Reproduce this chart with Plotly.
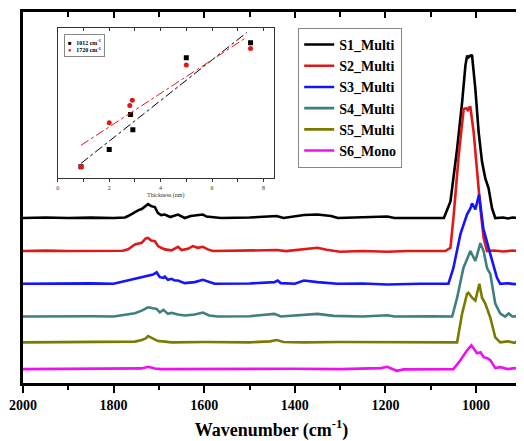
import plotly.graph_objects as go

# ---------------- data ----------------
SERIES_NAMES = ["S1_Multi", "S2_Multi", "S3_Multi", "S4_Multi", "S5_Multi", "S6_Mono"]
SERIES_COLORS = ["#000000", "#e01818", "#1414ff", "#3f7f7f", "#7a7a00", "#ee10ee"]
SERIES_OFFSETS = [1.663, 1.33, 1.00, 0.67, 0.41, 0.14]

# (wavenumber cm-1, intensity a.u.)
S1 = [(2000, 0), (1950, 0.005), (1900, 0), (1850, 0.004), (1800, 0), (1775, 0.005), (1768, 0.02),
      (1753, 0.06), (1745, 0.08), (1738, 0.09), (1730, 0.12), (1724, 0.14), (1717, 0.12), (1709, 0.11),
      (1702, 0.05), (1695, 0.03), (1687, 0.035), (1675, 0.01), (1658, 0.035), (1650, 0.015), (1643, 0),
      (1630, 0.02), (1621, 0.025), (1603, 0.035), (1595, 0.015), (1580, 0.01), (1563, 0), (1500, 0.005),
      (1440, 0.02), (1425, 0), (1380, 0.03), (1350, 0.035), (1320, 0.02), (1305, 0), (1250, 0.005),
      (1196, 0.015), (1180, 0), (1101, 0.005), (1080, 0), (1071, 0), (1056.5, 0.167), (1041.8, 0.70),
      (1030.8, 1.167), (1023.5, 1.537), (1019.8, 1.637), (1016.5, 1.62), (1012, 1.64), (1008.8, 1.637),
      (1001.5, 1.30), (994.3, 0.867), (986.8, 0.567), (979.6, 0.40), (972.3, 0.30), (964.8, 0.10),
      (957.6, 0), (940, 0.005), (930, -0.005), (920, 0.005), (900, 0)]
S2 = [(2000, 0), (1950, 0.004), (1900, 0), (1850, 0.003), (1800, 0), (1780, 0.003), (1768, 0.017),
      (1753, 0.067), (1738, 0.083), (1729, 0.127), (1724, 0.133), (1717, 0.107), (1709, 0.10), (1702, 0.05),
      (1695, 0.033), (1687, 0.017), (1672, 0.007), (1658, 0.043), (1650, 0.01), (1636, 0.023), (1625, 0.05),
      (1614, 0.033), (1603, 0.043), (1592, 0.017), (1581, 0), (1500, 0.003), (1440, 0.01), (1420, 0),
      (1380, 0.023), (1350, 0.033), (1330, 0.013), (1300, -0.007), (1250, 0), (1196, -0.007), (1150, 0),
      (1100, 0), (1067.5, 0), (1056.5, 0.033), (1049.2, 0.37), (1038.2, 0.97), (1027.3, 1.433),
      (1021.3, 1.44), (1018, 1.42), (1014.5, 1.45), (1012.5, 1.45), (1005.3, 1.20), (997.8, 0.80),
      (990.5, 0.433), (983.3, 0.133), (975.8, 0), (960, 0.005), (940, -0.005), (920, 0.005), (900, 0)]
S3 = [(2000, 0), (1950, 0.003), (1900, 0), (1850, 0.004), (1800, 0), (1783, 0.017), (1768, 0.033),
      (1753, 0.05), (1738, 0.067), (1724, 0.083), (1713, 0.093), (1705, 0.117), (1698, 0.067), (1690, 0.06),
      (1687, 0.073), (1680, 0.04), (1672, 0.05), (1665, 0.033), (1658, 0.033), (1643, 0.007), (1621, 0.017),
      (1603, 0.04), (1592, 0.023), (1577, 0), (1500, 0.003), (1445, 0.017), (1438, 0.033), (1431, 0.007),
      (1400, 0), (1380, 0.033), (1350, 0.017), (1306, 0), (1250, 0.003), (1196, -0.007), (1123, 0),
      (1061, 0), (1050, 0.16), (1034.5, 0.50), (1019.8, 0.70), (1012.5, 0.76), (1008.8, 0.81),
      (1001.5, 0.75), (993.4, 0.90), (984, 0.56), (968.6, 0.30), (953.8, 0.06), (946.6, 0), (930, 0.005),
      (915, -0.003), (900, 0)]
S4 = [(2000, 0), (1950, 0.003), (1900, 0), (1850, 0.003), (1800, 0), (1783, 0.01), (1753, 0.033),
      (1738, 0.06), (1724, 0.093), (1713, 0.083), (1705, 0.077), (1698, 0.043), (1690, 0.067), (1680, 0.027),
      (1672, 0.037), (1658, 0.02), (1643, 0.01), (1621, 0.02), (1603, 0.04), (1589, 0.01), (1570, 0),
      (1500, 0.003), (1445, 0.027), (1431, 0), (1380, 0.013), (1350, 0.027), (1314, 0.007), (1250, 0),
      (1196, 0.013), (1180, 0), (1100, 0.003), (1052.7, 0), (1041.8, 0.19), (1027.9, 0.49), (1012.5, 0.66),
      (1001.5, 0.56), (990.5, 0.74), (983.3, 0.66), (975.8, 0.49), (968.6, 0.43), (957.6, 0.13),
      (946.6, 0.03), (935.6, 0.0), (928, 0.03), (920, 0), (900, 0.005)]
S5 = [(2000, 0), (1900, 0.003), (1800, 0), (1753, 0.007), (1738, 0.023), (1729, 0.04), (1724, 0.063),
      (1717, 0.047), (1709, 0.03), (1702, 0.013), (1687, 0.007), (1672, 0), (1600, 0.003), (1500, 0),
      (1455, 0.01), (1440, 0.023), (1425, 0.003), (1380, 0), (1300, 0.003), (1200, 0), (1100, 0.003),
      (1041.8, 0), (1030.8, 0.29), (1019.8, 0.49), (1016.9, 0.50), (1008.8, 0.45), (1001.5, 0.42),
      (992.7, 0.59), (986.8, 0.45), (979.6, 0.39), (968.6, 0.25), (957.6, 0.05), (946.6, 0), (930, 0.01),
      (915, -0.005), (907, 0.02), (900, 0.005)]
S6 = [(2000, 0), (1900, 0.003), (1800, 0), (1738, 0.007), (1724, 0.023), (1709, 0.007), (1695, 0),
      (1600, 0.003), (1500, 0), (1400, 0.003), (1300, 0), (1210, 0.01), (1196, 0.023), (1175, -0.017),
      (1160, -0.003), (1100, 0), (1050, 0), (1034.5, 0.09), (1019.8, 0.19), (1010.3, 0.24), (1003, 0.2),
      (997.8, 0.16), (990, 0.17), (983.3, 0.12), (975, 0.11), (968.6, 0.09), (957.6, 0.01), (946.6, 0.02),
      (930, 0.0), (915, 0.01), (900, 0.005)]
SPECTRA = [S1, S2, S3, S4, S5, S6]

X_TICKS = [2000, 1800, 1600, 1400, 1200, 1000]

# inset
THICKNESS_1012 = [0.9, 2.0, 2.83, 2.92, 5.0, 7.5]
AREA_1012 = [0.117, 0.29, 0.644, 0.49, 1.217, 1.367]
THICKNESS_1720 = [0.9, 2.0, 2.8, 2.9, 5.0, 7.5]
AREA_1720 = [0.117, 0.56, 0.734, 0.787, 1.144, 1.31]
FIT_X = [0.9, 7.35]
INSET_TICKS = [0, 2, 4, 6, 8]
INSET_LEGEND = [("■", "#000000", "1012 cm<sup>-1</sup>"), ("●", "#e01818", "1720 cm<sup>-1</sup>")]

SERIF = "Liberation Serif"

fig = go.Figure()

for name, color, off, data in zip(SERIES_NAMES, SERIES_COLORS, SERIES_OFFSETS, SPECTRA):
    fig.add_trace(go.Scatter(
        x=[p[0] for p in data], y=[p[1] + off for p in data], mode="lines", name=name,
        line=dict(color=color, width=2.6), xaxis="x", yaxis="y"))

# dummy traces for top mirror axes with inward ticks
fig.add_trace(go.Scatter(x=[1500], y=[None], xaxis="x3", yaxis="y", showlegend=False,
                         hoverinfo="skip", mode="lines"))
fig.add_trace(go.Scatter(x=[4], y=[None], xaxis="x4", yaxis="y2", showlegend=False,
                         hoverinfo="skip", mode="lines"))


def linfit(xs, ys):
    n = len(xs)
    mx = sum(xs) / n
    my = sum(ys) / n
    sxy = sum((a - mx) * (b - my) for a, b in zip(xs, ys))
    sxx = sum((a - mx) ** 2 for a in xs)
    k = sxy / sxx
    return k, my - k * mx


for xs, ys, color, sym in [
    (THICKNESS_1012, AREA_1012, "#000000", "square"),
    (THICKNESS_1720, AREA_1720, "#e01818", "circle"),
]:
    k, b = linfit(xs, ys)
    fig.add_trace(go.Scatter(x=FIT_X, y=[k * v + b for v in FIT_X], mode="lines",
                             line=dict(color=color, width=1, dash="dashdot"),
                             xaxis="x2", yaxis="y2", showlegend=False, hoverinfo="skip"))
    fig.add_trace(go.Scatter(x=xs, y=ys, mode="markers", showlegend=False,
                             marker=dict(color=color, symbol=sym, size=5),
                             xaxis="x2", yaxis="y2"))

legend_text = "<br>".join(
    f"<span style='color:{c}'>{s}</span>   {t}" for s, c, t in INSET_LEGEND)
fig.add_annotation(
    xref="x2 domain", yref="y2 domain", x=0.03, y=0.96, xanchor="left", yanchor="top",
    text=legend_text, showarrow=False, align="left",
    font=dict(family=SERIF, size=6, weight="bold", color="black"),
    bordercolor="#888", borderwidth=1, borderpad=3, bgcolor="white")

INSET_TICK_STYLE = dict(tickcolor="#333", tickwidth=1)

# the page body adds an 8px margin: figure sized/placed to compensate
fig.update_layout(
    width=516, height=433, autosize=False,
    margin=dict(l=13, r=4, t=1, b=58),
    paper_bgcolor="white", plot_bgcolor="white",
    font=dict(family=SERIF, color="black"),
    xaxis=dict(domain=[0, 1], range=[2000, 903], anchor="y",
               tickmode="array", tickvals=X_TICKS, ticks="outside", ticklen=7, tickwidth=2.2,
               tickcolor="black", ticklabeloverflow="allow",
               minor=dict(dtick=100, tick0=0, ticks="outside", ticklen=4, tickwidth=2.2, tickcolor="black"),
               showline=True, linewidth=2.6, linecolor="black", mirror=True,
               showgrid=False, zeroline=False,
               tickfont=dict(family=SERIF, size=14, weight="bold"),
               title=dict(text="Wavenumber (cm<sup>-1</sup>)", font=dict(family=SERIF, size=18, weight="bold"),
                          standoff=13)),
    xaxis3=dict(overlaying="x", side="top", anchor="y", range=[2000, 903],
                tickmode="array", tickvals=X_TICKS, ticks="inside", ticklen=6, tickwidth=2.2,
                tickcolor="black",
                minor=dict(dtick=100, tick0=0, ticks="inside", ticklen=5, tickwidth=2.2, tickcolor="black"),
                showticklabels=False, showline=False, showgrid=False, zeroline=False),
    yaxis=dict(domain=[0, 1], range=[0, 3.74], anchor="x", showline=True, linewidth=2.6,
               linecolor="black", mirror=True, ticks="", showticklabels=False,
               showgrid=False, zeroline=False),
    xaxis2=dict(domain=[0.0701, 0.5044], anchor="y2", range=[0, 8.4],
                tickmode="array", tickvals=INSET_TICKS, ticks="outside", ticklen=3,
                minor=dict(dtick=1, tick0=0, ticks="outside", ticklen=3, **INSET_TICK_STYLE),
                showline=True, linewidth=1, linecolor="#333", mirror=True, showgrid=False, zeroline=False,
                tickfont=dict(family=SERIF, size=6, color="#333"), ticklabeloverflow="allow",
                title=dict(text="Thickness (nm)", font=dict(family=SERIF, size=6, color="#333"), standoff=3),
                **INSET_TICK_STYLE),
    xaxis4=dict(overlaying="x2", side="top", anchor="y2", range=[0, 8.4],
                tickmode="array", tickvals=INSET_TICKS, ticks="inside", ticklen=3,
                minor=dict(dtick=1, tick0=0, ticks="inside", ticklen=3, **INSET_TICK_STYLE),
                showticklabels=False, showline=False, showgrid=False, zeroline=False,
                **INSET_TICK_STYLE),
    yaxis2=dict(domain=[0.5516, 0.9572], anchor="x2", range=[0, 1.517],
                showline=True, linewidth=1, linecolor="#333", mirror=True, ticks="",
                showticklabels=False, showgrid=False, zeroline=False),
    legend=dict(x=0.5537, y=0.957, xanchor="left", yanchor="top", bgcolor="white",
                bordercolor="#888", borderwidth=1, tracegroupgap=0, itemwidth=30,
                font=dict(family=SERIF, size=14, weight="bold", color="black")),
    showlegend=True,
)

fig.write_html("out.html")
